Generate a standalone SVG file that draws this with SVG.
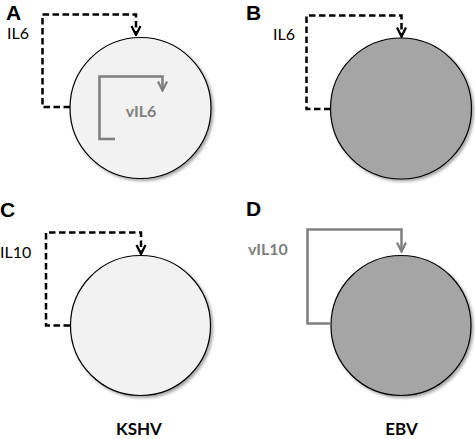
<svg xmlns="http://www.w3.org/2000/svg" width="475" height="439" viewBox="0 0 475 439">
<defs>
<marker id="arrK" viewBox="0 0 10 10" refX="9" refY="5" markerWidth="4.5" markerHeight="4.5" markerUnits="strokeWidth" orient="auto"><path d="M1,1 L9,5 L1,9" fill="none" stroke="#000" stroke-width="2"/></marker>
<marker id="arrG" viewBox="0 0 10 10" refX="9" refY="5" markerWidth="4.5" markerHeight="4.5" markerUnits="strokeWidth" orient="auto"><path d="M1,1 L9,5 L1,9" fill="none" stroke="#7f7f7f" stroke-width="2"/></marker>
<filter id="sh" x="-10%" y="-10%" width="125%" height="125%"><feGaussianBlur in="SourceAlpha" stdDeviation="1.5"/><feOffset dx="1.5" dy="2" result="b"/><feFlood flood-color="#000" flood-opacity="0.35"/><feComposite in2="b" operator="in"/><feMerge><feMergeNode/><feMergeNode in="SourceGraphic"/></feMerge></filter>
</defs>
<style>
.light{fill:#f2f2f2;stroke:#000;stroke-width:1.2}
.dark{fill:#a5a5a5;stroke:#000;stroke-width:1.2}
.dash{fill:none;stroke:#000;stroke-width:2.5;stroke-dasharray:6.5,3.5}
.gray{fill:none;stroke:#7f7f7f;stroke-width:2.5}
.lbl{font-family:Lato,"Open Sans",sans-serif;font-size:16px;fill:#000}
.glbl{font-family:Lato,"Open Sans",sans-serif;font-size:16px;font-weight:bold;fill:#7f7f7f}
.pan{font-family:"Liberation Sans",Arial,sans-serif;font-size:21px;font-weight:bold;fill:#000}
.virus{font-family:Lato,"Open Sans",sans-serif;font-size:17px;font-weight:bold;fill:#000}
</style>
<g id="panelA">
<text class="pan" x="6" y="19.5">A</text>
<text class="lbl" x="7" y="39">IL6</text>
<g id="cellA"><circle class="light" cx="140.5" cy="108" r="70.5" filter="url(#sh)"/></g>
<text class="glbl" x="141" y="117" text-anchor="middle">vIL6</text>
</g>
<g id="panelB">
<text class="pan" x="246" y="19.5">B</text>
<text class="lbl" x="273" y="40">IL6</text>
<g id="cellB"><circle class="dark" cx="401" cy="108.5" r="70.5" filter="url(#sh)"/></g>
</g>
<g id="panelC">
<text class="pan" x="0" y="217">C</text>
<text class="lbl" x="0" y="258">IL10</text>
<g id="cellC"><circle class="light" cx="140.5" cy="325.5" r="70" filter="url(#sh)"/></g>
<text class="virus" x="139" y="435" text-anchor="middle">KSHV</text>
</g>
<g id="panelD">
<text class="pan" x="246" y="216">D</text>
<text class="glbl" x="248" y="255">vIL10</text>
<g id="cellD"><circle class="dark" cx="401" cy="325.5" r="70" filter="url(#sh)"/></g>
<text class="virus" x="401.5" y="435" text-anchor="middle">EBV</text>
</g>
<g id="connectors">
<path class="dash" d="M70,107 H42.5 V14.5 H136 V35" marker-end="url(#arrK)"/>
<path class="gray" d="M115,139 H99.5 V76.5 H162.5 V90.5" marker-end="url(#arrG)"/>
<path class="dash" d="M330.5,109 H306.5 V15.5 H401.5 V36.5" marker-end="url(#arrK)"/>
<path class="dash" d="M70,325.5 H46 V232.5 H141 V254" marker-end="url(#arrK)"/>
<path class="gray" d="M330.5,323.5 H307.5 V229.5 H401.5 V251.5" marker-end="url(#arrG)"/>
</g>
</svg>
